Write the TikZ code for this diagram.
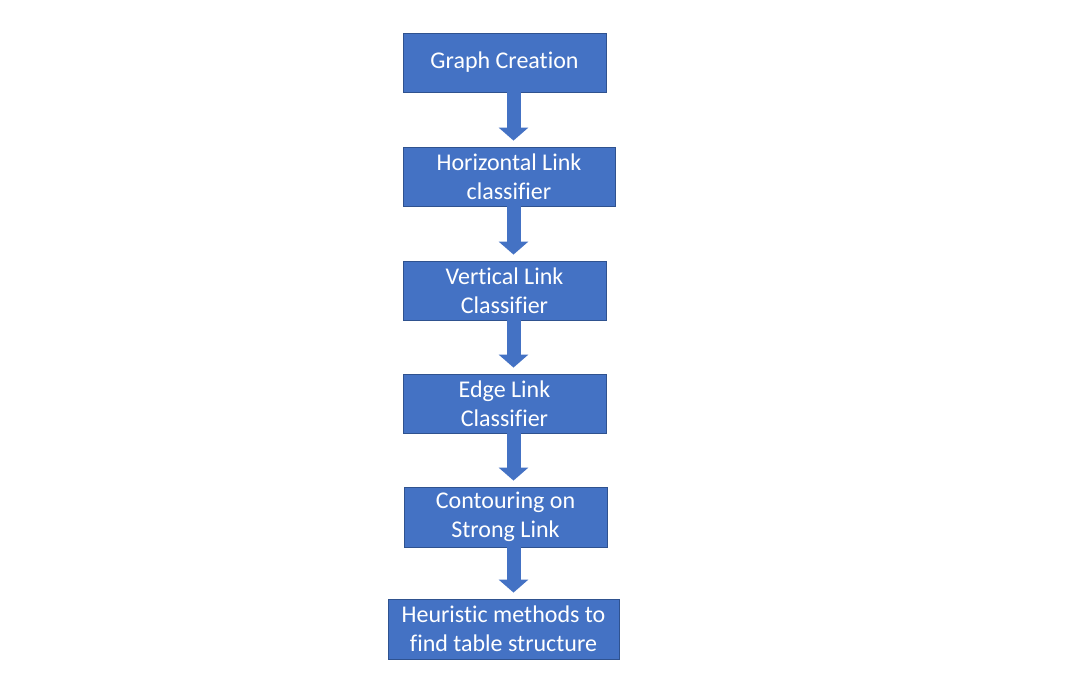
\documentclass[tikz,border=0pt]{standalone}
\usepackage{fontspec}
\setmainfont{Carlito}[Ligatures=NoCommon]
\usetikzlibrary{arrows.meta}
\definecolor{boxfill}{RGB}{68,114,196}
\definecolor{boxline}{RGB}{47,82,143}

\begin{document}
\begin{tikzpicture}[x=1pt, y=-1pt,
        stage/.style={draw=boxline, line width=0.8pt, fill=boxfill, text=white,
            align=center, inner sep=0pt, minimum height=59pt,
            font=\fontsize{24}{29}\selectfont},
        flow/.style={boxfill, line width=14pt,
            -{Triangle[width=29pt,length=13pt]}, shorten >=6pt}]
        \useasboundingbox (0,0) rectangle (1089,687);
        \coordinate (axis) at (513.5,0);

        \node (graphbox) [stage, minimum width=203pt] at (504.5,62.5) {Graph Creation};
        \node (horizbox) [stage, minimum width=212pt] at (509,176.5) {Horizontal Link\\classifier};
        \node (vertbox) [stage, minimum width=203pt] at (504.5,290.5) {Vertical Link\\Classifier};
        \node (edgebox) [stage, minimum width=203pt] at (504.5,403.5) {Edge Link\\Classifier};
        \node (contbox) [stage, minimum width=203pt, minimum height=60pt] at (505.5,517) {Contouring on\\Strong Link};
        \node (heurbox) [stage, minimum width=231pt, minimum height=60pt] at (503.5,629) {Heuristic methods to\\find table structure};

        \draw [flow] (graphbox.south -| axis) -- (horizbox.north -| axis);
        \draw [flow] (horizbox.south -| axis) -- (vertbox.north -| axis);
        \draw [flow] (vertbox.south -| axis) -- (edgebox.north -| axis);
        \draw [flow] (edgebox.south -| axis) -- (contbox.north -| axis);
        \draw [flow] (contbox.south -| axis) -- (heurbox.north -| axis);
\end{tikzpicture}
\end{document}
